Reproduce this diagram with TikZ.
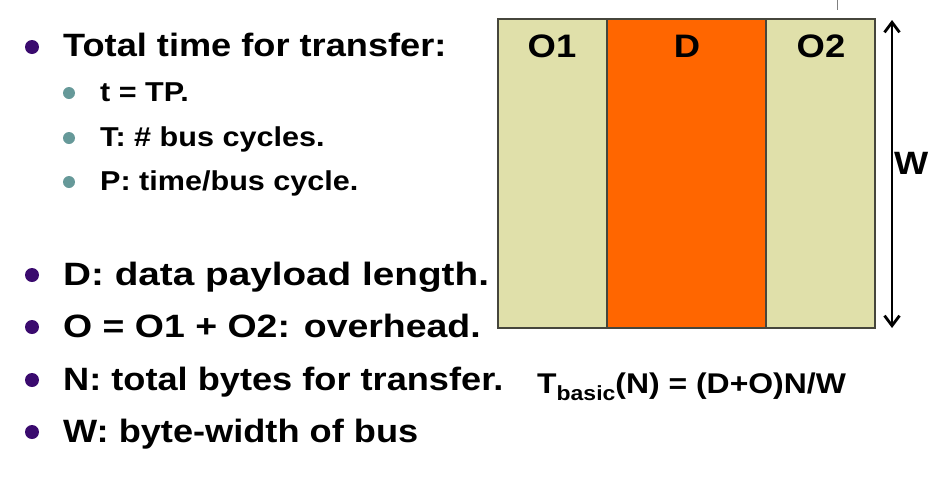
\documentclass[tikz,border=0pt]{standalone}
\usepackage{fontspec}
\setmainfont{Liberation Sans}[FakeStretch=1.12]
\usetikzlibrary{arrows.meta}
\definecolor{khaki}{RGB}{224,224,170}
\definecolor{orng}{RGB}{255,102,0}
\definecolor{purp}{RGB}{58,10,110}
\definecolor{teal2}{RGB}{102,153,153}
\definecolor{edge}{RGB}{70,70,60}
\tikzset{
  main/.style={anchor=base west,inner sep=0pt,font=\fontsize{32.3}{36}\selectfont\bfseries},
  sub/.style={anchor=base west,inner sep=0pt,font=\fontsize{27.3}{30}\selectfont\bfseries},
  lab/.style={anchor=base,inner sep=0pt,font=\fontsize{32.5}{36}\selectfont\bfseries},
  mdot/.style={circle,fill=purp,inner sep=0pt,minimum size=14pt},
  sdot/.style={circle,fill=teal2,inner sep=0pt,minimum size=12pt},
  field/.style={draw=edge,line width=1.2pt},
  barb/.style={line width=2.8pt,{Straight Barb[length=10pt,width=15pt,line width=2.8pt]}-{Straight Barb[length=10pt,width=15pt,line width=2.8pt]}},
}
\begin{document}
\begin{tikzpicture}[x=1pt,y=-1pt]
\useasboundingbox (0,0) rectangle (942,480);
% bullets
\node[mdot] (b1) at (32,47) {};
\node[main] (t1) at (63,56) {Total time for transfer:};
\node[sdot] (s1) at (69,93) {};
\node[sub] (u1) at (100,101) {t = TP.};
\node[sdot] (s2) at (69,138) {};
\node[sub] (u2) at (100,146) {T: \# bus cycles.};
\node[sdot] (s3) at (69,182) {};
\node[sub] (u3) at (100,190) {P: time/bus cycle.};
\node[mdot] (b2) at (32,275) {};
\node[main] (t2) at (63,285) {\scalebox{1.07}[1]{D: data payload length.}};
\node[mdot] (b3) at (32,327) {};
\node[main] (t3) at (63,337) {\scalebox{1.035}[1]{O = O1 + O2: overhead.}};
\node[mdot] (b4) at (32,380) {};
\node[main] (t4) at (63,390) {N: total bytes for transfer.};
\node[mdot] (b5) at (32,432) {};
\node[main] (t5) at (63,442) {W: byte-width of bus};
% packet
\filldraw[field,fill=khaki] (498,19) rectangle (607,328);
\filldraw[field,fill=orng] (607,19) rectangle (766,328);
\filldraw[field,fill=khaki] (766,19) rectangle (875,328);
\node[lab] (o1) at (552,57) {O1};
\node[lab] (d) at (687,57) {D};
\node[lab] (o2) at (821,57) {O2};
\coordinate (top) at (892,20);
\coordinate (bot) at (892,328);
\draw[barb] (top) -- (bot);
\node[main] (w) at (894,174) {W};
\coordinate (tk1) at (837,0);
\coordinate (tk2) at (837,10);
\draw[gray,line width=1pt] (tk1) -- (tk2);
% formula
\node[anchor=base west,inner sep=0pt,font=\fontsize{28.5}{32}\selectfont\bfseries] (f) at (537,393) {T\raisebox{-7pt}{\fontsize{20.5}{24}\selectfont basic}(N) = (D+O)N/W};
\end{tikzpicture}
\end{document}
